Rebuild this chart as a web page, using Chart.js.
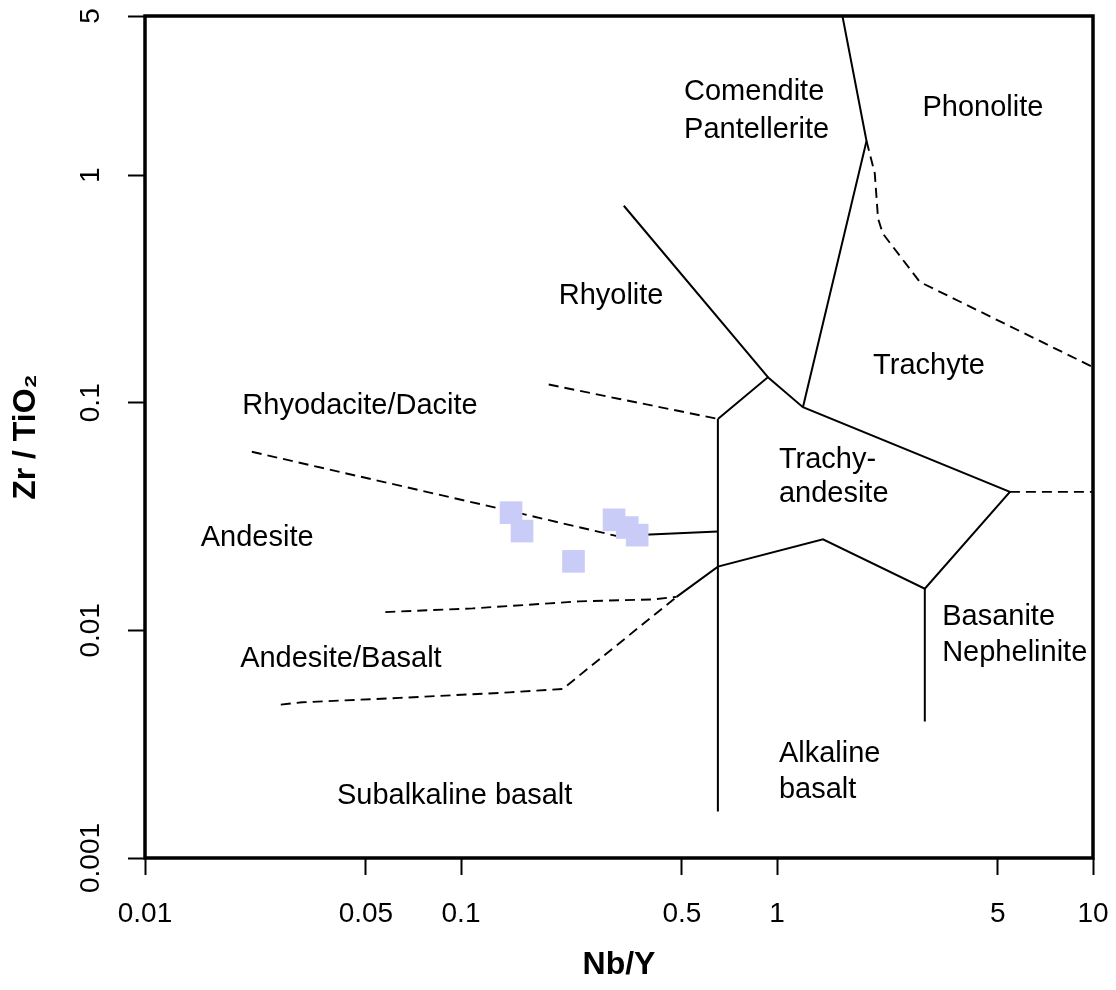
<!DOCTYPE html>
<html><head><meta charset="utf-8">
<script src="https://cdn.jsdelivr.net/npm/chart.js@4.4.1/dist/chart.umd.min.js"></script>
<style>html,body{margin:0;padding:0;background:#fff;}canvas{display:block;}</style>
</head><body>
<canvas id="c" width="1116" height="990"></canvas>
<script>
// ---- tick values / labels ----
const xTickValues = [0.01, 0.05, 0.1, 0.5, 1, 5, 10];
const xTickLabels = ['0.01', '0.05', '0.1', '0.5', '1', '5', '10'];
const yTickValues = [0.001, 0.01, 0.1, 1, 5];
const yTickLabels = ['0.001', '0.01', '0.1', '1', '5'];

// ---- sample data (Nb/Y, Zr/TiO2) ----
const sampleNbY  = [0.144, 0.156, 0.227, 0.305, 0.336, 0.361];
const sampleZrTi = [0.0329, 0.0273, 0.0201, 0.0306, 0.0283, 0.0262];

// ---- field boundaries, solid ----
const bComenditePhonolite = [[1.611, 5], [1.920, 1.412], [1.208, 0.0956]];
const bRhyolite           = [[0.3275, 0.7336], [0.936, 0.1295], [0.650, 0.0849]];
const bTrachyandesite     = [[0.936, 0.1295], [1.208, 0.0956], [5.458, 0.0406], [2.936, 0.01525],
                             [1.398, 0.02513], [0.650, 0.01906], [0.481, 0.01403]];
const bAlkalineVertical   = [[0.650, 0.0849], [0.650, 0.0016]];
const bBasaniteVertical   = [[2.936, 0.01525], [2.936, 0.00398]];
const bAndesiteTrachy     = [[0.3098, 0.0260], [0.650, 0.02718]];
// ---- field boundaries, dashed ----
const dPhonoliteTrachyte  = [[1.920, 1.412], [2.039, 1.018], [2.088, 0.645], [2.161, 0.554], [2.831, 0.3394], [10, 0.1434]];
const dTrachyteBasanite   = [[5.458, 0.0406], [10, 0.0406]];
const dRhyoliteDacite     = [[0.1895, 0.1202], [0.3175, 0.1039], [0.650, 0.0849]];
const dDaciteAndesite     = [[0.02178, 0.0609], [0.1323, 0.0343], [0.3098, 0.0260]];
const dAndesiteAndBasalt  = [[0.0576, 0.01203], [0.1088, 0.01249], [0.1905, 0.01314], [0.237, 0.01341], [0.404, 0.01368], [0.481, 0.01403]];
const dAndBasaltSubalk    = [[0.0269, 0.00472], [0.0315, 0.00483], [0.0638, 0.00505], [0.1422, 0.00534], [0.2099, 0.00553], [0.481, 0.01403]];

// ---- field names (anchor: left end of text baseline, in data units) ----
const regionNames = ['Comendite', 'Pantellerite', 'Phonolite', 'Rhyolite', 'Trachyte', 'Rhyodacite/Dacite',
                     'Trachy-', 'andesite', 'Andesite', 'Basanite', 'Nephelinite', 'Andesite/Basalt',
                     'Alkaline', 'basalt', 'Subalkaline basalt'];
const regionNbY  = [0.508, 0.508, 2.887, 0.2038, 2.014, 0.02033, 1.014, 1.014, 0.01501, 3.332, 3.332, 0.0200, 1.014, 1.014, 0.04049];
const regionZrTi = [2.140, 1.451, 1.827, 0.2705, 0.1339, 0.08929, 0.05148, 0.03646, 0.02349, 0.01054, 0.007318, 0.006916, 0.002628, 0.001832, 0.001723];

const FAMILY = "'Liberation Sans', Arial, Helvetica, sans-serif";
const toPts = arr => arr.map(([x, y]) => ({x, y}));
const lineDs = (arr, dashed) => ({
  data: toPts(arr), showLine: true, pointRadius: 0, borderColor: '#000',
  borderWidth: dashed ? 1.9 : 2, borderDash: dashed ? [10, 6] : [], fill: false, order: 1, tension: 0
});

const frameAndLabels = {
  id: 'frameAndLabels',
  afterDatasetsDraw(chart) {
    const {ctx, chartArea: a, scales: {x, y}} = chart;
    ctx.save();
    ctx.fillStyle = '#000';
    ctx.font = '29px ' + FAMILY;
    ctx.textAlign = 'left';
    ctx.textBaseline = 'alphabetic';
    regionNames.forEach((t, i) => {
      ctx.fillText(t, x.getPixelForValue(regionNbY[i]), y.getPixelForValue(regionZrTi[i]));
    });
    ctx.lineWidth = 3.5;
    ctx.strokeStyle = '#000';
    ctx.strokeRect(a.left, a.top, a.right - a.left, a.bottom - a.top);
    ctx.restore();
  }
};

const gridOpts = {drawOnChartArea: false, drawTicks: true, tickLength: 17, tickWidth: 2, tickColor: '#000'};

new Chart(document.getElementById('c'), {
  type: 'scatter',
  data: {
    datasets: [
      {data: sampleNbY.map((v, i) => ({x: v, y: sampleZrTi[i]})), pointStyle: 'rect', pointRadius: 16,
       backgroundColor: '#c9ccf6', borderWidth: 0, order: 0},
      lineDs(bComenditePhonolite, false),
      lineDs(bRhyolite, false),
      lineDs(bTrachyandesite, false),
      lineDs(bAlkalineVertical, false),
      lineDs(bBasaniteVertical, false),
      lineDs(bAndesiteTrachy, false),
      lineDs(dPhonoliteTrachyte, true),
      lineDs(dTrachyteBasanite, true),
      lineDs(dRhyoliteDacite, true),
      lineDs(dDaciteAndesite, true),
      lineDs(dAndesiteAndBasalt, true),
      lineDs(dAndBasaltSubalk, true)
    ]
  },
  options: {
    responsive: false,
    animation: false,
    events: [],
    layout: {padding: {top: 16, right: 23, left: 0, bottom: 0}},
    plugins: {legend: {display: false}, tooltip: {enabled: false}},
    scales: {
      x: {
        type: 'logarithmic', position: 'bottom', min: 0.01, max: 10,
        afterBuildTicks: s => { s.ticks = xTickValues.map(v => ({value: v})); },
        afterFit: s => { s.height = 132; s.paddingLeft = 0; s.paddingRight = 0; },
        ticks: {callback: (v, i) => xTickLabels[i], font: {family: FAMILY, size: 28}, color: '#000',
                padding: 22, autoSkip: false, minRotation: 0, maxRotation: 0},
        grid: gridOpts,
        border: {display: false},
        title: {display: true, text: 'Nb/Y', color: '#000', font: {family: FAMILY, size: 32, weight: 'bold'},
                padding: {top: 0, bottom: 6}}
      },
      y: {
        type: 'logarithmic', position: 'left', min: 0.001, max: 5,
        afterBuildTicks: s => { s.ticks = yTickValues.map(v => ({value: v})); },
        afterFit: s => { s.width = 145; s.paddingTop = 0; s.paddingBottom = 0; },
        ticks: {callback: (v, i) => yTickLabels[i], font: {family: FAMILY, size: 28}, color: '#000',
                padding: 2, autoSkip: false, minRotation: 90, maxRotation: 90, crossAlign: 'center'},
        grid: gridOpts,
        border: {display: false},
        title: {display: true, text: 'Zr / TiO\u2082', color: '#000', font: {family: FAMILY, size: 32, weight: 'bold'},
                padding: {top: 7, bottom: 0}}
      }
    }
  },
  plugins: [frameAndLabels]
});
</script>
</body></html>
